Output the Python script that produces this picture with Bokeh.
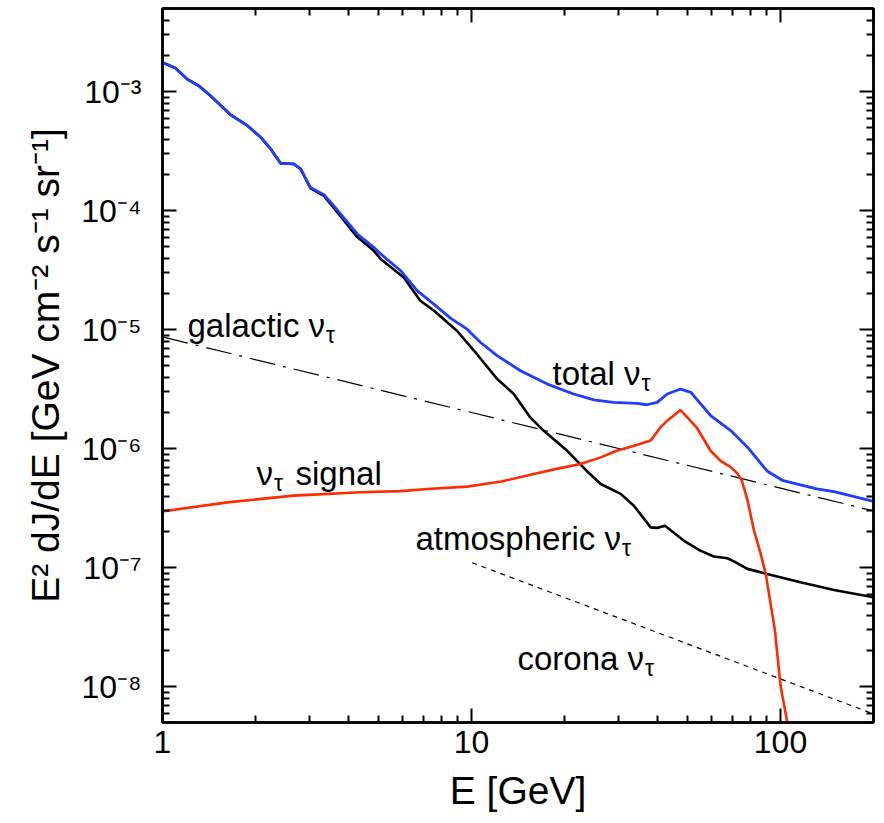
from bokeh.plotting import figure
from bokeh.models import LogAxis, FixedTicker, Label
from bokeh.embed import file_html
from bokeh.resources import INLINE

# ---------------------------------------------------------------- data
# total nu_tau flux, E^2 dJ/dE [GeV cm^-2 s^-1 sr^-1]
total_E = [1.00, 1.10, 1.20, 1.31, 1.43, 1.66, 1.88, 2.08, 2.24, 2.41, 2.66, 2.80,
           3.01, 3.33, 3.58, 4.27, 4.83, 5.08, 5.90, 6.67, 7.55, 8.55, 9.68, 10.7,
           12.1, 14.4, 17.6, 21.4, 24.9, 28.8, 34.4, 36.9, 39.9, 43.0, 47.5, 51.3,
           59.4, 69.0, 78.2, 90.5, 102, 131, 149, 200]
total_flux = [1.76e-3, 1.58e-3, 1.28e-3, 1.12e-3, 9.25e-4, 6.4e-4, 5.2e-4, 4.13e-4,
              3.3e-4, 2.5e-4, 2.47e-4, 2.24e-4, 1.57e-4, 1.36e-4, 1.10e-4, 6.37e-5,
              4.92e-5, 4.33e-5, 3.13e-5, 2.13e-5, 1.64e-5, 1.25e-5, 1.01e-5, 7.8e-6,
              6.05e-6, 4.52e-6, 3.49e-6, 2.88e-6, 2.57e-6, 2.45e-6, 2.40e-6, 2.34e-6,
              2.45e-6, 2.88e-6, 3.17e-6, 2.97e-6, 1.9e-6, 1.42e-6, 1.03e-6, 6.5e-7,
              5.38e-7, 4.6e-7, 4.35e-7, 3.6e-7]

# atmospheric nu_tau
atm_E = [1.00, 1.10, 1.20, 1.31, 1.43, 1.66, 1.88, 2.08, 2.24, 2.41, 2.66, 2.80,
         3.01, 3.33, 3.58, 4.27, 4.83, 5.08, 6.04, 6.83, 7.55, 8.97, 10.4, 12.1,
         13.7, 15.5, 17.1, 20.4, 23.6, 26.2, 30.4, 33.6, 38.0, 39.9, 42.3, 48.6,
         55.0, 60.9, 67.3, 70.7, 78.2, 90.5, 116, 149, 200]
atm_flux = [1.76e-3, 1.58e-3, 1.28e-3, 1.12e-3, 9.25e-4, 6.4e-4, 5.2e-4, 4.13e-4,
            3.3e-4, 2.5e-4, 2.47e-4, 2.24e-4, 1.55e-4, 1.33e-4, 1.06e-4, 6.0e-5,
            4.6e-5, 3.93e-5, 2.75e-5, 1.75e-5, 1.45e-5, 9.8e-6, 6.25e-6, 3.86e-6,
            2.88e-6, 1.83e-6, 1.42e-6, 9.6e-7, 6.5e-7, 5.05e-7, 4.17e-7, 3.3e-7,
            2.18e-7, 2.16e-7, 2.25e-7, 1.69e-7, 1.39e-7, 1.24e-7, 1.20e-7, 1.13e-7,
            9.77e-8, 8.86e-8, 7.53e-8, 6.5e-8, 5.64e-8]

# nu_tau signal
signal_E = [1.00, 1.62, 2.66, 4.37, 5.90, 7.19, 9.68, 12.5, 15.9, 19.0, 22.5, 26.2,
            29.5, 33.6, 38.0, 40.9, 43.0, 47.5, 53.6, 59.4, 64.0, 69.0, 72.5, 75.0,
            78.2, 81.9, 86.0, 89.5, 95.9, 100, 106]
signal_flux = [2.97e-7, 3.54e-7, 4.03e-7, 4.3e-7, 4.4e-7, 4.58e-7, 4.8e-7, 5.3e-7,
               6.12e-7, 6.8e-7, 7.43e-7, 8.45e-7, 9.6e-7, 1.06e-6, 1.17e-6, 1.51e-6,
               1.72e-6, 2.11e-6, 1.5e-6, 9.6e-7, 7.9e-7, 7.0e-7, 6.2e-7, 5.4e-7,
               3.7e-7, 2.1e-7, 1.35e-7, 9.0e-8, 3.0e-8, 1.03e-8, 4.5e-9]

# galactic and corona nu_tau (power laws)
galactic_E = [1, 200]
galactic_flux = [8.7e-6, 3.0e-7]
corona_E = [10.05, 200]
corona_flux = [1.1e-7, 5.9e-9]

# axis ticks
x_ticks = [1, 10, 100]
x_tick_labels = ["1", "10", "100"]
y_ticks = [1e-8, 1e-7, 1e-6, 1e-5, 1e-4, 1e-3]
y_tick_exponents = ["-8", "-7", "-6", "-5", "-4", "-3"]

# ---------------------------------------------------------------- layout
W, H = 884, 823
LEFT, RIGHT, TOP, BOTTOM = 162, 11, 8, 101
X_RANGE = (1, 200)
Y_RANGE = (5e-9, 5e-3)
FONT = "Liberation Sans"
SUPERSCRIPT = str.maketrans("-0123456789", "\u207b\u2070\u00b9\u00b2\u00b3\u2074\u2075\u2076\u2077\u2078\u2079")

p = figure(width=W, height=H, x_axis_type="log", y_axis_type="log",
           x_range=X_RANGE, y_range=Y_RANGE,
           output_backend="svg", toolbar_location=None,
           min_border_left=LEFT, min_border_right=RIGHT,
           min_border_top=TOP, min_border_bottom=BOTTOM)
p.xgrid.visible = False
p.ygrid.visible = False
p.outline_line_color = "black"
p.outline_line_width = 2.5
p.background_fill_color = "white"
p.border_fill_color = "white"

x_minor = [m * 10 ** k for k in range(0, 3) for m in range(2, 10) if m * 10 ** k <= 200]
y_minor = [m * 10.0 ** k for k in range(-9, -2) for m in range(2, 10)
           if 5e-9 <= m * 10.0 ** k <= 5e-3]


def style_axis(ax, ticks, minor):
    ax.ticker = FixedTicker(ticks=ticks, minor_ticks=minor)
    ax.axis_line_width = 2.5
    ax.axis_line_color = "black"
    ax.major_tick_in = 14
    ax.major_tick_out = 0
    ax.minor_tick_in = 7
    ax.minor_tick_out = 0
    ax.major_tick_line_width = 2
    ax.minor_tick_line_width = 2
    ax.major_tick_line_color = "black"
    ax.minor_tick_line_color = "black"
    ax.major_label_text_font = FONT
    ax.major_label_text_color = "black"
    ax.axis_label_text_font = FONT
    ax.axis_label_text_font_style = "normal"
    ax.axis_label_text_color = "black"


def hide_labels(ax):
    ax.major_label_text_color = None
    ax.axis_label = None


xaxis = p.xaxis[0]
style_axis(xaxis, x_ticks, x_minor)
xaxis.major_label_overrides = dict(zip(x_ticks, x_tick_labels))
xaxis.major_label_text_font_size = "32px"
xaxis.major_label_standoff = 8
xaxis.axis_label = "E [GeV]"
xaxis.axis_label_text_font_size = "39px"
xaxis.axis_label_standoff = 13

yaxis = p.yaxis[0]
style_axis(yaxis, y_ticks, y_minor)
yaxis.major_label_overrides = {t: "10" + e.translate(SUPERSCRIPT)
                               for t, e in zip(y_ticks, y_tick_exponents)}
yaxis.major_label_text_font_size = "32px"
yaxis.major_label_standoff = 21
yaxis.axis_label = ("E" + "2".translate(SUPERSCRIPT) + " dJ/dE [GeV cm" +
                    "-2".translate(SUPERSCRIPT) + " s" + "-1".translate(SUPERSCRIPT) +
                    " sr" + "-1".translate(SUPERSCRIPT) + "]")
yaxis.axis_label_text_font_size = "39px"
yaxis.axis_label_standoff = 11

top_axis = LogAxis()
style_axis(top_axis, x_ticks, x_minor)
hide_labels(top_axis)
p.add_layout(top_axis, "above")
right_axis = LogAxis()
style_axis(right_axis, y_ticks, y_minor)
hide_labels(right_axis)
p.add_layout(right_axis, "right")

# ---------------------------------------------------------------- curves
p.line(galactic_E, galactic_flux, line_color="black", line_width=1.2,
       line_dash="26 8 3 8")
p.line(corona_E, corona_flux, line_color="black", line_width=1.2, line_dash="5 5")
p.line(atm_E, atm_flux, line_color="black", line_width=2.6)
p.line(total_E, total_flux, line_color="#1f3cff", line_width=2.8)
p.line(signal_E, signal_flux, line_color="#ff2a00", line_width=2.6)

# ---------------------------------------------------------------- curve labels
FRAME_W = W - LEFT - RIGHT
FRAME_H = H - TOP - BOTTOM


def data_x(px):
    """canvas column -> energy"""
    lo, hi = 0.0, 2.30103
    return 10 ** (lo + (px - LEFT) / FRAME_W * (hi - lo))


def data_y(py):
    """canvas row -> flux"""
    lo, hi = -8.30103, -2.30103
    return 10 ** (hi - (py - TOP) / FRAME_H * (hi - lo))


LAB, SUB = 33, 23
ADV = {'a': .556, 'c': .5, 'e': .556, 'g': .556, 'h': .556, 'i': .222, 'l': .222,
       'm': .833, 'n': .556, 'o': .556, 'p': .556, 'r': .333, 's': .5, 't': .278,
       ' ': .278, '\u03bd': .5}


def put(text, px, py, size):
    p.add_layout(Label(x=data_x(px), y=data_y(py), text=text, text_font=FONT,
                       text_font_size=f"{size}px", text_align="left",
                       text_baseline="alphabetic", text_color="black"))


def name_nu_tau(name, px, py):
    head = name + " \u03bd"
    put(head, px, py, LAB)
    put("\u03c4", px + sum(ADV[c] for c in head) * LAB + 1, py + 9, SUB)


name_nu_tau("galactic", 187, 325)
put("\u03bd", 256, 473, LAB)
put("\u03c4", 256 + ADV['\u03bd'] * LAB + 1, 482, SUB)
put("signal", 295, 473, LAB)
name_nu_tau("total", 552, 373)
name_nu_tau("atmospheric", 415, 538)
name_nu_tau("corona", 517, 658)

open("out.html", "w").write(file_html(p, INLINE))
